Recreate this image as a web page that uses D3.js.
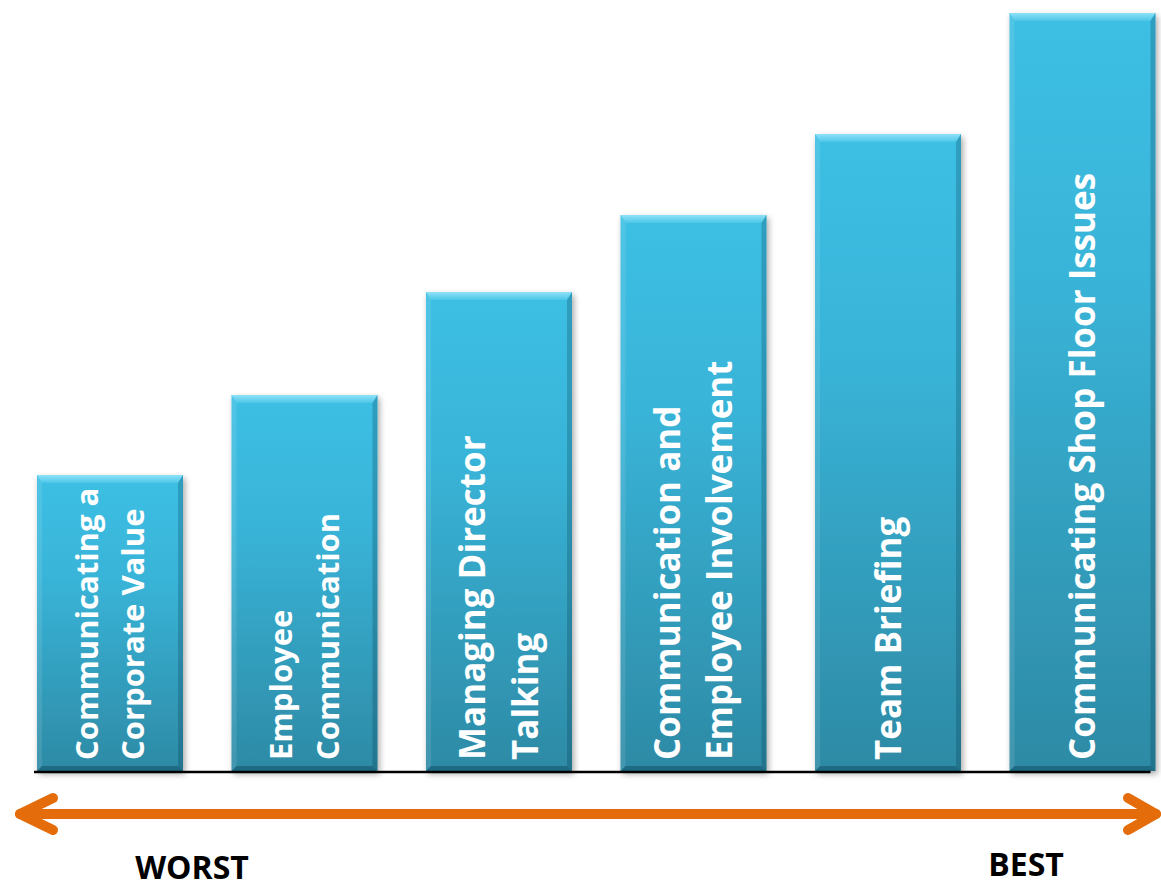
<!DOCTYPE html>
<meta charset="utf-8">
<script src="https://d3js.org/d3.v7.min.js"></script>
<style>
  body { margin: 0; background: #fff; }
  .label { font-family: "Open Sans", sans-serif; font-weight: bold; fill: #fff; }
  .end-label { font-family: "Open Sans", sans-serif; font-weight: bold; font-size: 32px; fill: #000; }
</style>
<div id="chart"></div>
<script>
// Data
var categories = ["Communicating a Corporate Value", "Employee Communication", "Managing Director Talking",
                  "Communication and Employee Involvement", "Team Briefing", "Communicating Shop Floor Issues"];
var labelLines = [["Communicating a", "Corporate Value"], ["Employee", "Communication"], ["Managing Director", "Talking"],
                  ["Communication and", "Employee Involvement"], ["Team Briefing"], ["Communicating Shop Floor Issues"]];
var values = [296, 376, 479, 556, 637, 758];
var scaleLabels = ["WORST", "BEST"];

// label font size per bar (text autofit in the original)
var labelSize = [31, 31, 35, 35, 35, 35];

var width = 1161, height = 882;

var svg = d3.select("#chart").append("svg")
  .attr("width", width)
  .attr("height", height);

var defs = svg.append("defs");

var grad = defs.append("linearGradient").attr("id", "barFill")
  .attr("x1", 0).attr("y1", 0).attr("x2", 0).attr("y2", 1);
grad.append("stop").attr("offset", "0%").attr("stop-color", "#3cbfe4");
grad.append("stop").attr("offset", "35%").attr("stop-color", "#39b4d8");
grad.append("stop").attr("offset", "100%").attr("stop-color", "#2d8aa5");

var topGrad = defs.append("linearGradient").attr("id", "bevelTop")
  .attr("x1", 0).attr("y1", 0).attr("x2", 0).attr("y2", 1);
topGrad.append("stop").attr("offset", "0%").attr("stop-color", "#8ee2f8");
topGrad.append("stop").attr("offset", "100%").attr("stop-color", "#4cc6e8");

var shadow = defs.append("filter").attr("id", "shadow")
  .attr("x", "-10%").attr("y", "-10%").attr("width", "130%").attr("height", "130%");
shadow.append("feDropShadow")
  .attr("dx", 2).attr("dy", 3).attr("stdDeviation", 3)
  .attr("flood-color", "#000").attr("flood-opacity", 0.35);

// Scales
var x = d3.scaleBand()
  .domain(categories)
  .range([37, 1155.5])
  .paddingInner(0.2494)
  .paddingOuter(0);

var y = d3.scaleLinear()
  .domain([0, 760])
  .range([771, 11]);

var bw = x.bandwidth();
var bev = 8, side = 5;

var bars = svg.append("g").selectAll("g")
  .data(categories)
  .enter()
  .append("g")
  .attr("transform", function(d, i) { return "translate(" + x(d) + "," + y(values[i]) + ")"; });

bars.append("rect")
  .attr("width", bw)
  .attr("height", function(d, i) { return y(0) - y(values[i]); })
  .attr("fill", "url(#barFill)")
  .attr("filter", "url(#shadow)");

function poly(pts) { return "M" + pts.map(function(p) { return p.join(","); }).join("L") + "Z"; }

// bevel edges
bars.append("path")
  .attr("d", function() { return poly([[0, 0], [bw, 0], [bw - side, bev], [side, bev]]); })
  .attr("fill", "url(#bevelTop)");
bars.append("path")
  .attr("d", function(d, i) { var h = y(0) - y(values[i]); return poly([[0, 0], [side, bev], [side, h - side], [0, h]]); })
  .attr("fill", "rgba(255,255,255,0.10)");
bars.append("path")
  .attr("d", function(d, i) { var h = y(0) - y(values[i]); return poly([[bw, 0], [bw, h], [bw - side, h - side], [bw - side, bev]]); })
  .attr("fill", "rgba(0,40,60,0.22)");
bars.append("path")
  .attr("d", function(d, i) { var h = y(0) - y(values[i]); return poly([[0, h], [side, h - side], [bw - side, h - side], [bw, h]]); })
  .attr("fill", "rgba(0,40,60,0.32)");

// rotated labels inside bars
categories.forEach(function(c, i) {
  var lines = labelLines[i];
  var fs = labelSize[i];
  var lh = fs * 1.5;
  var cx = x(c) + bw / 2;
  lines.forEach(function(line, j) {
    var bx = cx + (j - (lines.length - 1) / 2) * lh + 0.36 * fs;
    svg.append("text")
      .attr("class", "label")
      .attr("transform", "translate(" + bx + "," + (y(0) - 11) + ") rotate(-90)")
      .style("font-size", fs + "px")
      .text(line);
  });
});

// base line
svg.append("line")
  .attr("x1", x.range()[0] - 3).attr("x2", x.range()[1] - 5)
  .attr("y1", y(0) + 1).attr("y2", y(0) + 1)
  .attr("stroke", "#000")
  .attr("stroke-width", 2.5);

// double headed arrow
var ay = 814, aL = 20, aR = 1156;
var arrow = svg.append("g")
  .attr("fill", "none")
  .attr("stroke", "#e46c0a")
  .attr("stroke-width", 10)
  .attr("stroke-linecap", "round")
  .attr("stroke-linejoin", "round");
arrow.append("path").attr("d", "M" + aL + "," + ay + "H" + aR);
arrow.append("path").attr("d", "M" + (aL + 33) + "," + (ay - 16) + "L" + aL + "," + ay + "L" + (aL + 33) + "," + (ay + 16));
arrow.append("path").attr("d", "M" + (aR - 28) + "," + (ay - 16) + "L" + aR + "," + ay + "L" + (aR - 28) + "," + (ay + 16));

svg.append("text").attr("class", "end-label")
  .attr("x", 192).attr("y", 879)
  .attr("text-anchor", "middle")
  .text(scaleLabels[0]);
svg.append("text").attr("class", "end-label")
  .attr("x", 1026).attr("y", 876)
  .attr("text-anchor", "middle")
  .text(scaleLabels[1]);
</script>
